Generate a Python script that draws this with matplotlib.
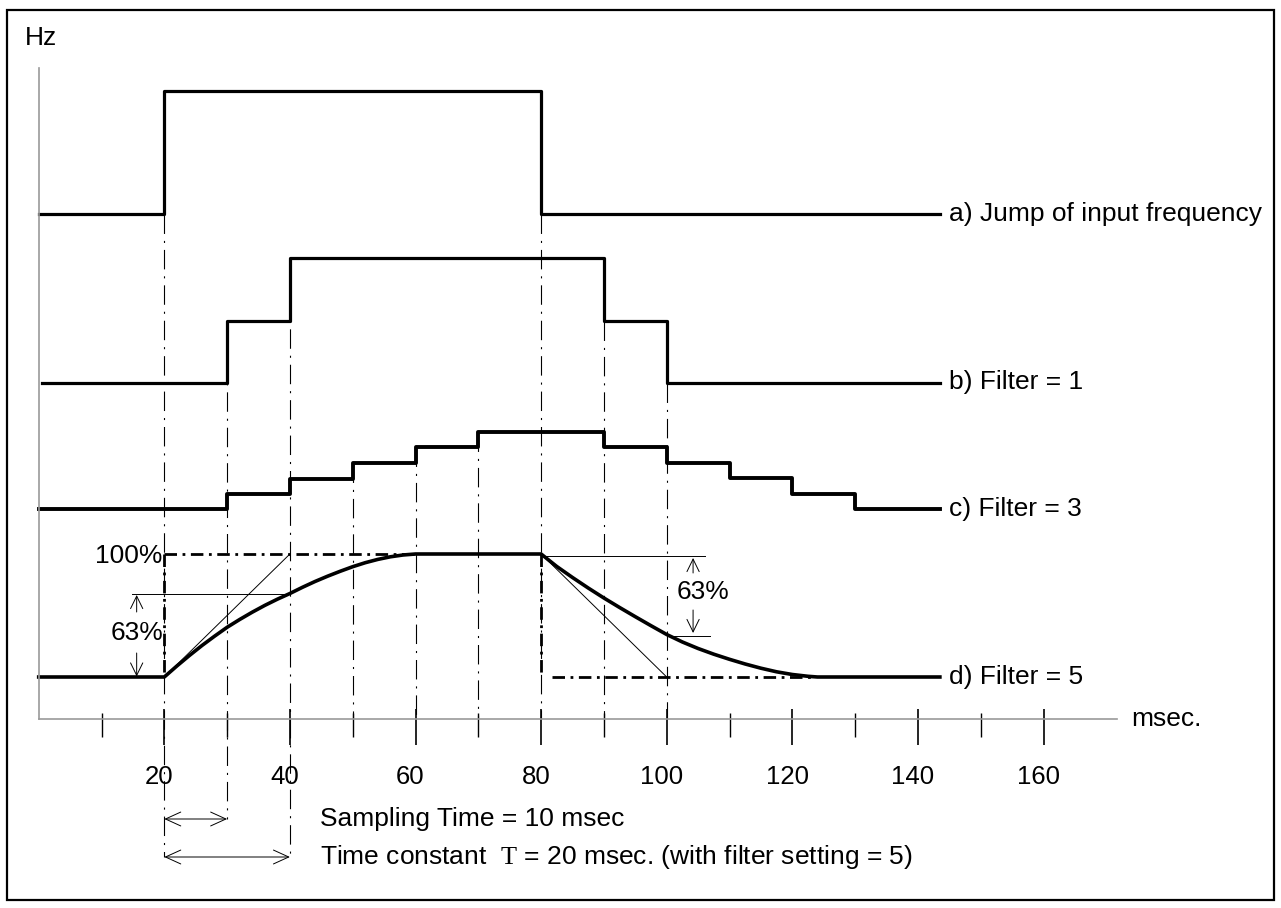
import matplotlib.pyplot as plt
from matplotlib.patches import Rectangle
from matplotlib.transforms import ScaledTranslation

plt.rcParams['font.family'] = ['Liberation Sans', 'DejaVu Sans']
plt.rcParams['mathtext.fontset'] = 'custom'
plt.rcParams['mathtext.rm'] = 'Liberation Serif'
plt.rcParams['lines.scale_dashes'] = False

# signal levels (arbitrary height units above the time axis), time in msec
a_times = [0, 20, 80, 143.5]
a_levels = [505, 628, 505, 505]

b_times = [0.5, 30, 40, 90, 100, 143.5]
b_levels = [336, 398, 461, 398, 336, 336]

c_times = [0, 30, 40, 50, 60, 70, 90, 100, 110, 120, 130, 143.5]
c_levels = [210, 225, 240, 256, 272, 287, 272, 256, 241, 225, 210, 210]

# filter = 5 response
d_rise_t = [20, 22, 24, 26, 28, 30, 32, 34, 36, 38, 40, 42, 44, 46, 48, 50, 52, 54, 56, 58, 60]
d_rise_h = [42, 53, 63.5, 73.5, 82.8, 91.7, 99.5, 106.8, 113.6, 119.8, 125.5, 131.7, 137.5,
            142.8, 147.7, 152.3, 156.3, 159.6, 162.2, 164, 165]
d_fall_t = [80, 82.5, 85, 87.5, 90, 92.5, 95, 97.5, 100, 102.5, 105, 107.5, 110, 112.5, 115,
            117.5, 120, 122.5, 124]
d_fall_h = [165, 152.5, 141.5, 131, 121, 111.5, 102.3, 93.3, 84.5, 77, 70.5, 64.8, 59.7, 55,
            50.8, 47.2, 44.5, 42.7, 42]
d_low, d_high = 42, 165
d_end = 143.5

labels = ['a) Jump of input frequency', 'b) Filter = 1', 'c) Filter = 3', 'd) Filter = 5']
label_h = [505, 337, 210, 42]

major_ticks = [20, 40, 60, 80, 100, 120, 140, 160]
minor_ticks = [10, 30, 50, 70, 90, 110, 130, 150]

# dash-dot guide lines: (time, top, bottom)
guides = [(20, 505, -138), (30, 398, -100), (40, 461, -138), (50, 256, 0), (60, 272, 0),
          (70, 287, 0), (80, 505, 0), (90, 398, 0), (100, 336, 0)]

px = 6.28  # pixels per msec
fig = plt.figure(figsize=(12.81, 9.08), dpi=100)
ax = fig.add_axes([0, 0, 1, 1])
ax.set_xlim(-38.7 / px, (1281 - 38.7) / px)
ax.set_ylim(719 - 908, 719)
ax.patch.set_visible(False)

for s in ['top', 'right']:
    ax.spines[s].set_visible(False)
ax.spines['bottom'].set_position(('data', 0))
ax.spines['bottom'].set_bounds(0, 171.7)
ax.spines['left'].set_position(('data', 0))
ax.spines['left'].set_bounds(0, 651)
for s in ['bottom', 'left']:
    ax.spines[s].set_color('#999999')
    ax.spines[s].set_linewidth(1.2)
ax.set_yticks([])
ax.set_xticks(major_ticks)
ax.set_xticklabels([str(t) for t in major_ticks])
ax.tick_params(axis='x', length=0, pad=33, labelsize=18.5)
shift = ScaledTranslation(-5 / 100, 0, fig.dpi_scale_trans)
for lbl in ax.get_xticklabels():
    lbl.set_transform(lbl.get_transform() + shift)

# tick marks
ax.vlines(major_ticks, -26, 10, color='black', lw=1.2)
ax.vlines(minor_ticks, -18, 6, color='black', lw=1.0)

thin_dd = (0, (14, 5, 1.5, 5))
for t, top, bot in guides:
    ax.plot([t, t], [top, bot], color='black', lw=0.8, ls=thin_dd)

# signals
ax.step(a_times, a_levels, where='post', color='black', lw=2.3)
ax.step(b_times, b_levels, where='post', color='black', lw=2.3)
ax.step(c_times, c_levels, where='post', color='black', lw=2.8)
d_t = [0] + d_rise_t + d_fall_t + [d_end]
d_h = [d_low] + d_rise_h + d_fall_h + [d_low]
ax.plot(d_t, d_h, color='black', lw=2.6, solid_joinstyle='round')

# 100% box
thick_dd = (0, (9, 4, 2, 4))
ax.plot([20, 60], [d_high, d_high], color='black', lw=2, ls=thick_dd)
ax.plot([20, 20], [d_high, d_low], color='black', lw=2, ls=thick_dd)
ax.plot([80, 80], [d_high, d_low], color='black', lw=2, ls=thick_dd)
ax.plot([81.7, 123], [d_low, d_low], color='black', lw=2, ls=thick_dd)

# tangents and 63% marks
ax.plot([20, 40], [d_low, d_high], color='black', lw=0.7)
ax.plot([80, 100], [d_high, d_low], color='black', lw=0.7)
ax.plot([14.8, 40], [125, 125], color='black', lw=0.7)
ax.plot([80, 106.1], [163, 163], color='black', lw=0.7)
ax.plot([100.3, 106.9], [83, 83], color='black', lw=0.7)

arr = dict(arrowstyle='->,head_length=0.45,head_width=0.22', color='black', lw=0.7,
           shrinkA=0, shrinkB=0, mutation_scale=20)
ax.annotate('', xy=(15.6, 124), xytext=(15.6, 107), arrowprops=arr)
ax.annotate('', xy=(15.6, 42.5), xytext=(15.6, 66), arrowprops=arr)
ax.annotate('', xy=(104.2, 161), xytext=(104.2, 146), arrowprops=arr)
ax.annotate('', xy=(104.2, 86), xytext=(104.2, 109), arrowprops=arr)

dim = dict(arrowstyle='<->,head_length=0.55,head_width=0.25', color='black', lw=0.7,
           shrinkA=0, shrinkB=0, mutation_scale=20)
ax.annotate('', xy=(20, -100), xytext=(30, -100), arrowprops=dim)
ax.annotate('', xy=(20, -138), xytext=(40, -138), arrowprops=dim)

fs = 19
ax.text(19.7, 163, '100%', fontsize=fs, ha='right', va='center')
ax.text(15.7, 86, '63%', fontsize=fs, ha='center', va='center')
ax.text(105.8, 127, '63%', fontsize=fs, ha='center', va='center')
ax.text(-2.2, 681, 'Hz', fontsize=fs, ha='left', va='center')
ax.text(174, 0, 'msec.', fontsize=fs, ha='left', va='center')
for lab, h in zip(labels, label_h):
    ax.text(145, h, lab, fontsize=fs, ha='left', va='center')
ax.text(44.8, -100, 'Sampling Time = 10 msec', fontsize=fs, ha='left', va='center')
ax.text(44.8, -138, r'Time constant  $\mathrm{T}$ = 20 msec. (with filter setting = 5)',
        fontsize=fs, ha='left', va='center')

fig.patches.append(Rectangle((7 / 1281, 1 - 900 / 908), 1267 / 1281, 890 / 908,
                             transform=fig.transFigure, fill=False, lw=1.6, ec='black'))

fig.savefig('out.png', dpi=100)
